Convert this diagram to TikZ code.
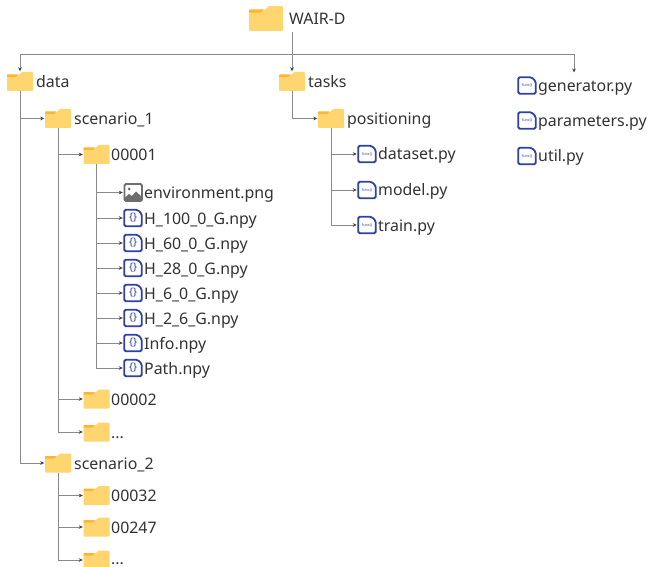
\documentclass[tikz,border=0pt]{standalone}
\usepackage{fontspec}
\setmainfont{Noto Sans}
\usetikzlibrary{arrows.meta}
\definecolor{flight}{HTML}{FFD56F}
\definecolor{fdark}{HTML}{FFB533}
\definecolor{fblue}{HTML}{2F41A6}
\definecolor{fgray}{HTML}{6E6E6E}
\definecolor{ink}{HTML}{333333}
\definecolor{lin}{HTML}{8A8A8A}
\tikzset{
  lab/.style={anchor=base west,inner sep=0pt,text=ink,font=\fontsize{15.9}{18}\selectfont},
  iconbox/.style={inner sep=0pt,minimum width=#1,minimum height=#1},
  conn/.style={draw=lin,line width=0.95pt,-{Stealth[length=4pt,width=3.6pt,color=black!75]},shorten >=0.5pt},
  plain/.style={draw=lin,line width=0.95pt}
}
% folder: name, centre x, centre y, scale, label x, label
\newcommand{\fold}[6]{%
  \begin{scope}[shift={(#2,#3)},scale=#4]
    \fill[flight,rounded corners=0.8] (-13,9.5) -- (-13,-6.5) -- (-1,-6.5) -- (2,-9.5) -- (13,-9.5) -- (13,9.5) -- cycle;
    \fill[fdark,rounded corners=0.5] (-13,-4.5) -- (-13,-7) -- (-1.5,-7) -- (-4,-4.5) -- cycle;
  \end{scope}
  \node[iconbox=19pt,minimum width=26pt,scale=#4] (#1) at (#2,#3) {};
  \node[lab] (#1-t) at (#5,#3+6) {#6};}
% file icon outline
\newcommand{\fileshape}[2]{%
  \draw[fblue,line width=1.8pt,rounded corners=1.6,fill=white]
    (#1-8.8,#2-8.3) -- (#1+4.5,#2-8.3) -- (#1+8.8,#2-4) -- (#1+8.8,#2+8.3) -- (#1-8.8,#2+8.3) -- cycle;}
% npy: name, x, y, label
\newcommand{\npy}[4]{%
  \fileshape{#2}{#3}
  \node[iconbox=19pt,text=fblue,font=\fontsize{10.5}{10}\bfseries\selectfont] (#1) at (#2,#3) {\{\}};
  \node[lab] (#1-t) at (#2+11,#3+6) {#4};}
% py: name, x, y, label
\newcommand{\pyf}[4]{%
  \fileshape{#2}{#3}
  \node[iconbox=19pt,text=fblue,font=\fontsize{3.8}{4}\bfseries\selectfont] (#1) at (#2,#3) {func()};
  \node[lab] (#1-t) at (#2+11,#3+6) {#4};}
\begin{document}
\begin{tikzpicture}[x=1pt,y=-1pt]
\useasboundingbox (0,0) rectangle (648,567);
\fill[white] (0,0) rectangle (648,567);
\fold{wair}{266}{18.5}{1.3}{289}{WAIR-D}
\fold{data}{20}{81.5}{1}{36}{data}
\fold{tasks}{292}{81.5}{1}{308}{tasks}
\fold{sa}{58}{118.5}{1}{74}{scenario\_1}
\fold{pos}{331}{118.5}{1}{347}{positioning}
\fold{fa}{96.5}{154.5}{1}{111}{00001}
\fold{fb}{96.5}{399}{1}{111}{00002}
\fold{fc}{96.5}{432}{1}{111}{...}
\fold{sb}{58}{463}{1}{74}{scenario\_2}
\fold{fd}{96.5}{495.5}{1}{111}{00032}
\fold{fe}{96.5}{527}{1}{111}{00247}
\fold{ff}{96.5}{560}{1}{111}{\raisebox{1.5pt}{...}}
% image file
\draw[fgray,line width=1.8pt,rounded corners=1.5] (124.5,184) rectangle (142,201);
\fill[fgray] (124.5,201) -- (124.5,198) -- (129,194) -- (132,196) -- (136,191.5) -- (142,197) -- (142,201) -- cycle;
\fill[fgray] (129,189) circle (1.5);
\node[iconbox=19pt] (img) at (133,192.5) {};
\node[lab] (img-t) at (144,198.5) {environment.png};
\npy{na}{133}{218}{H\_100\_0\_G.npy}
\npy{nb}{133}{243}{H\_60\_0\_G.npy}
\npy{nc}{133}{268}{H\_28\_0\_G.npy}
\npy{nd}{133}{293}{H\_6\_0\_G.npy}
\npy{ne}{133}{318}{H\_2\_6\_G.npy}
\npy{nf}{133}{343}{Info.npy}
\npy{ng}{133}{368}{Path.npy}
\pyf{da}{367}{154}{dataset.py}
\pyf{mo}{367}{190}{model.py}
\pyf{tr}{367}{225}{train.py}
\pyf{ge}{527}{85.5}{generator.py}
\pyf{pa}{527}{120.5}{parameters.py}
\pyf{ut}{527}{156}{util.py}
% connectors
\coordinate (bus) at (292,54);
\coordinate (wairout) at (292,32);
\coordinate (genin) at (574,73);
\draw[conn] (wairout) -- (tasks.north);
\draw[conn] (bus) -| (data.north);
\draw[conn] (bus) -| (genin);
\draw[conn] (data.south) |- (sa.west);
\draw[conn] (data.south) |- (sb.west);
\draw[conn] (tasks.south) |- (pos.west);
\draw[conn] (sa.south) |- (fa.west);
\draw[conn] (sa.south) |- (fb.west);
\draw[conn] (sa.south) |- (fc.west);
\draw[conn] (sb.south) |- (fd.west);
\draw[conn] (sb.south) |- (fe.west);
\draw[conn] (sb.south) |- (ff.west);
\foreach \n in {img,na,nb,nc,nd,ne,nf,ng} \draw[conn] (fa.south) |- (\n.west);
\foreach \n in {da,mo,tr} \draw[conn] (pos.south) |- (\n.west);
\end{tikzpicture}
\end{document}
